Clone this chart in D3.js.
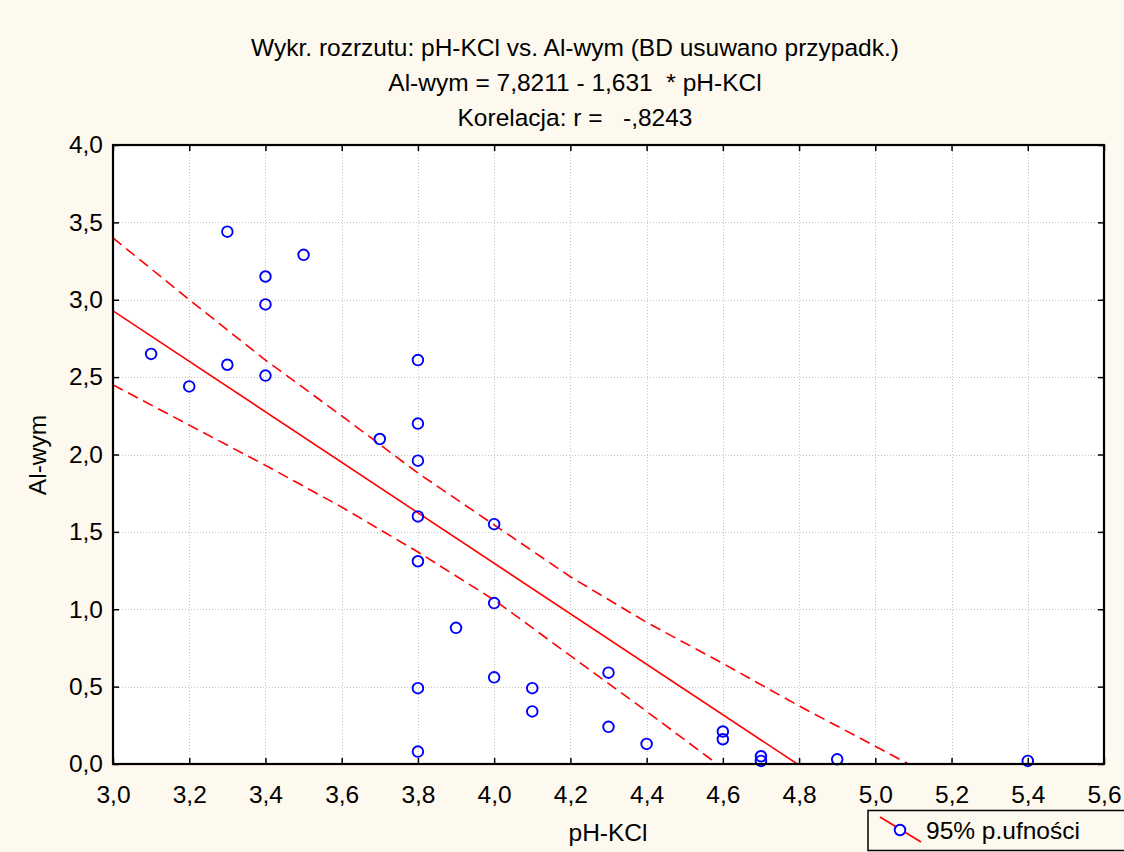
<!DOCTYPE html>
<html>
<head>
<meta charset="utf-8">
<script src="https://cdn.jsdelivr.net/npm/d3@7"></script>
<style>
  html, body { margin: 0; padding: 0; background: #fef9ee; }
  svg { display: block; }
  text { font-family: "Liberation Sans", Arial, sans-serif; fill: #000; }
</style>
</head>
<body>
<svg id="chart" width="1124" height="852"></svg>
<script>
// pH-KCl (x) and exchangeable Al (y) for each sample
const phKCl = [3.1, 3.2, 3.3, 3.3, 3.4, 3.4, 3.4, 3.5, 3.7, 3.8, 3.8, 3.8, 3.8, 3.8, 3.8, 3.8,
               3.9, 4.0, 4.0, 4.0, 4.1, 4.1, 4.3, 4.3, 4.4, 4.6, 4.6, 4.7, 4.7, 4.9, 5.4];
const alWym = [2.65, 2.44, 3.44, 2.58, 3.15, 2.97, 2.51, 3.29, 2.10, 2.61, 2.20, 1.96, 1.60, 1.31, 0.49, 0.08,
               0.88, 1.55, 1.04, 0.56, 0.49, 0.34, 0.59, 0.24, 0.13, 0.21, 0.16, 0.05, 0.02, 0.03, 0.02];

// Fitted line: Al-wym = 7,8211 - 1,631 * pH-KCl
const intercept = 7.8211;
const slope = -1.631;

// 95% confidence band
const upperX = [3.0, 3.2, 3.4, 3.6, 3.8, 4.0, 4.2, 4.4, 4.6, 4.8, 5.0, 5.087];
const upperY = [3.40, 3.00, 2.61, 2.25, 1.88, 1.545, 1.21, 0.915, 0.65, 0.375, 0.115, 0.0];
const lowerX = [3.0, 3.2, 3.4, 3.6, 3.8, 4.0, 4.2, 4.4, 4.585];
const lowerY = [2.45, 2.19, 1.93, 1.66, 1.37, 1.06, 0.70, 0.34, 0.0];

const xTicks = [3.0, 3.2, 3.4, 3.6, 3.8, 4.0, 4.2, 4.4, 4.6, 4.8, 5.0, 5.2, 5.4, 5.6];
const yTicks = [0.0, 0.5, 1.0, 1.5, 2.0, 2.5, 3.0, 3.5, 4.0];

const titleLines = [
  "Wykr. rozrzutu: pH-KCl vs. Al-wym (BD usuwano przypadk.)",
  "Al-wym = 7,8211 - 1,631  * pH-KCl",
  "Korelacja: r =   -,8243"
];
const xTitle = "pH-KCl";
const yTitle = "Al-wym";
const legendLabel = "95% p.ufności";

const FS = 24.5;
const svg = d3.select("#chart");
const W = 1124, H = 852;
const plot = { left: 113, top: 145, right: 1104, bottom: 764 };

const x = d3.scaleLinear().domain([3.0, 5.6]).range([plot.left, plot.right]);
const y = d3.scaleLinear().domain([0.0, 4.0]).range([plot.bottom, plot.top]);
const fmt = d => d3.format(".1f")(d).replace(".", ",");

svg.append("rect").attr("width", W).attr("height", H).attr("fill", "#fef9ee");
svg.append("rect")
  .attr("x", plot.left).attr("y", plot.top)
  .attr("width", plot.right - plot.left).attr("height", plot.bottom - plot.top)
  .attr("fill", "#ffffff");

// dotted grid
const grid = svg.append("g").attr("stroke", "#c4c4c4").attr("stroke-width", 1).attr("stroke-dasharray", "1,2");
grid.selectAll("line.gx").data(xTicks.slice(1, -1)).join("line")
  .attr("x1", d => Math.round(x(d)) + 0.5).attr("x2", d => Math.round(x(d)) + 0.5)
  .attr("y1", plot.top).attr("y2", plot.bottom);
grid.selectAll("line.gy").data(yTicks.slice(1, -1)).join("line")
  .attr("y1", d => Math.round(y(d)) + 0.5).attr("y2", d => Math.round(y(d)) + 0.5)
  .attr("x1", plot.left).attr("x2", plot.right);

svg.append("clipPath").attr("id", "plotClip").append("rect")
  .attr("x", plot.left).attr("y", plot.top)
  .attr("width", plot.right - plot.left).attr("height", plot.bottom - plot.top);

const layer = svg.append("g").attr("clip-path", "url(#plotClip)");

// confidence band
const bandLine = d3.line().x(d => x(d[0])).y(d => y(d[1]));
[[upperX, upperY], [lowerX, lowerY]].forEach(([bx, by]) => {
  layer.append("path")
    .datum(bx.map((v, i) => [v, by[i]]))
    .attr("d", bandLine)
    .attr("fill", "none").attr("stroke", "#ff0000")
    .attr("stroke-width", 1.6).attr("stroke-dasharray", "11,6");
});

// regression line
const xZero = -intercept / slope;
layer.append("path")
  .datum([3.0, xZero].map(v => [v, intercept + slope * v]))
  .attr("d", bandLine)
  .attr("fill", "none").attr("stroke", "#ff0000").attr("stroke-width", 1.6);

// points
svg.append("g").selectAll("circle").data(phKCl).join("circle")
  .attr("cx", d => x(d)).attr("cy", (d, i) => y(alWym[i])).attr("r", 5.3)
  .attr("fill", "none").attr("stroke", "#0000ff").attr("stroke-width", 1.9);

// axes with inward ticks
function styleAxis(g) {
  g.select(".domain").remove();
  g.selectAll(".tick line").attr("stroke", "#000").attr("stroke-width", 1.5);
  g.selectAll(".tick text").attr("font-size", FS).attr("font-family", "Liberation Sans, Arial, sans-serif").attr("fill", "#000");
}
svg.append("g").attr("transform", `translate(0,${plot.bottom})`)
  .call(d3.axisBottom(x).tickValues(xTicks).tickFormat(fmt).tickSizeInner(-6).tickSizeOuter(0).tickPadding(22))
  .call(styleAxis);
svg.append("g").attr("transform", `translate(0,${plot.top})`)
  .call(d3.axisTop(x).tickValues(xTicks).tickFormat("").tickSizeInner(-6).tickSizeOuter(0))
  .call(styleAxis);
svg.append("g").attr("transform", `translate(${plot.left},0)`)
  .call(d3.axisLeft(y).tickValues(yTicks).tickFormat(fmt).tickSizeInner(-6).tickSizeOuter(0).tickPadding(10))
  .call(styleAxis);
svg.append("g").attr("transform", `translate(${plot.right},0)`)
  .call(d3.axisRight(y).tickValues(yTicks).tickFormat("").tickSizeInner(-6).tickSizeOuter(0))
  .call(styleAxis);

// frame
svg.append("rect")
  .attr("x", plot.left).attr("y", plot.top)
  .attr("width", plot.right - plot.left).attr("height", plot.bottom - plot.top)
  .attr("fill", "none").attr("stroke", "#000").attr("stroke-width", 2.2);

// titles
svg.append("g").selectAll("text").data(titleLines).join("text")
  .attr("x", 575).attr("y", (d, i) => 56 + i * 35)
  .attr("text-anchor", "middle").attr("font-size", FS)
  .style("white-space", "pre").attr("xml:space", "preserve")
  .text(d => d);

svg.append("text").attr("x", 608).attr("y", 841).attr("text-anchor", "middle")
  .attr("font-size", FS).text(xTitle);
svg.append("text").attr("transform", "translate(46,455) rotate(-90)").attr("text-anchor", "middle")
  .attr("font-size", FS).text(yTitle);

// legend
const lg = svg.append("g");
lg.append("rect").attr("x", 868).attr("y", 810.5).attr("width", 262).attr("height", 40)
  .attr("fill", "#fef9ee").attr("stroke", "#000").attr("stroke-width", 1.5);
lg.append("line").attr("x1", 880).attr("y1", 817).attr("x2", 921).attr("y2", 842)
  .attr("stroke", "#ff0000").attr("stroke-width", 1.6);
lg.append("circle").attr("cx", 900).attr("cy", 830).attr("r", 5.3)
  .attr("fill", "#ffffff").attr("stroke", "#0000ff").attr("stroke-width", 1.9);
lg.append("text").attr("x", 926).attr("y", 839).attr("font-size", FS).text(legendLabel);
</script>
</body>
</html>
